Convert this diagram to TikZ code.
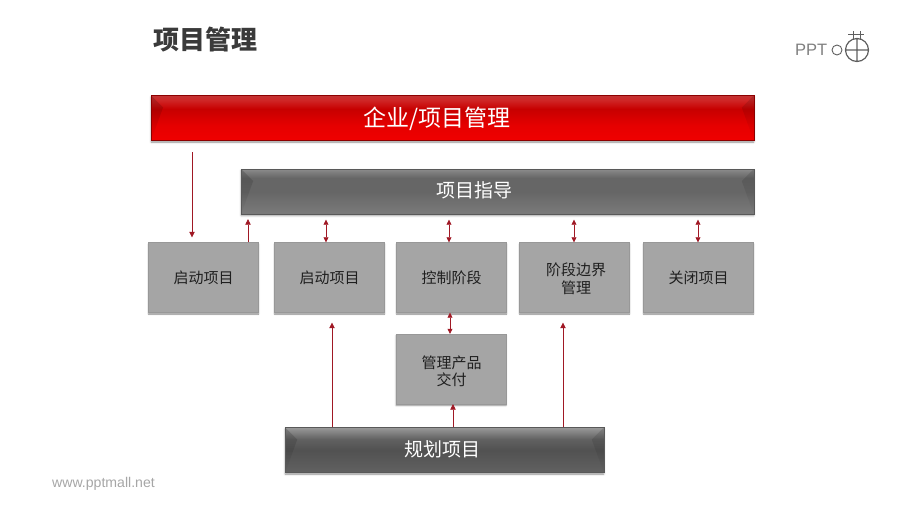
\documentclass[tikz,border=0pt]{standalone}
\usepackage{fontspec}
\usepackage{tikz}
\usetikzlibrary{arrows.meta, calc, fadings, shadows.blur}
\newfontfamily\cjk{Noto Sans CJK SC}
\setsansfont{Liberation Sans}
\definecolor{pmink}{HTML}{3A3A3A}
\definecolor{pmbox}{HTML}{A5A5A5}
\definecolor{pmedge}{HTML}{989898}
\definecolor{pmlink}{HTML}{A01824}
\definecolor{pmfoot}{HTML}{A6A6A6}
\definecolor{pmlogo}{HTML}{5F5F5F}
\pgfdeclareverticalshading{redbar}{100bp}{color(0bp)=(red!94!black); color(25bp)=(red!94!black);
  color(42bp)=(red!90!black); color(60bp)=(red!78!black); color(70bp)=(red!78!black!85!white); color(75bp)=(red!70!black!80!white); color(100bp)=(red!70!black!80!white)}
\pgfdeclareverticalshading{greybar}{100bp}{color(0bp)=(black!52); color(25bp)=(black!52);
  color(50bp)=(black!60); color(65bp)=(black!60); color(72bp)=(black!50); color(75bp)=(black!45); color(100bp)=(black!45)}
\pgfdeclareverticalshading{darkbar}{100bp}{color(0bp)=(black!62); color(25bp)=(black!62);
  color(50bp)=(black!68); color(62bp)=(black!62); color(72bp)=(black!45); color(75bp)=(black!40); color(100bp)=(black!40)}

\begin{document}
\begin{tikzpicture}[x=1pt, y=-1pt,
      blk/.style={draw=pmedge, line width=.4pt, fill=pmbox, text=black!88, align=center, inner sep=0pt,
                  minimum width=110pt, minimum height=70pt, font=\cjk\fontsize{15}{18}\selectfont,
                  blur shadow={shadow xshift=0pt, shadow yshift=-1.5pt, shadow blur radius=1.5pt, shadow opacity=45}},
      boxtext/.style={text=black!88, align=center, inner sep=0pt, font=\cjk\fontsize{15}{17.5}\selectfont},
      bar/.style={draw=black!65, line width=.4pt, inner sep=0pt, minimum height=45pt,
                  blur shadow={shadow xshift=0pt, shadow yshift=-1.5pt, shadow blur radius=2pt, shadow opacity=45},
                  path picture={
                    \fill[black, opacity=.18, path fading=south] (path picture bounding box.north west)
                      -- ++(12,12) -- (path picture bounding box.south west) -- cycle;
                    \fill[black, opacity=.14, path fading=south] (path picture bounding box.north east)
                      -- ++(-12,12) -- (path picture bounding box.south east) -- cycle;}},
      bartext/.style={text=white, inner sep=0pt, font=\cjk\fontsize{19}{24}\selectfont},
      link/.style={-{Triangle[length=5.5pt, width=5.5pt]}, pmlink, line width=.7pt},
      twin/.style={{Triangle[length=5pt, width=5pt]}-{Triangle[length=5pt, width=5pt]}, pmlink, line width=.7pt}]
  \useasboundingbox (0,0) rectangle (900,506);

  % title and footer
  \node[anchor=west, inner sep=0pt, text=pmink, font=\cjk\bfseries\fontsize{26}{30}\selectfont] (title) at (153,40) {项目管理};
  \node[anchor=west, inner sep=0pt, text=pmfoot, font=\sffamily\fontsize{14.1}{16}\selectfont] (foot) at (52,483.5) {www.pptmall.net};

  % logo
  \node[anchor=west, inner sep=0pt, text=pmlogo!80, font=\sffamily\fontsize{16.5}{18}\selectfont] (logotext) at (795,50) {PPT};
  \draw[pmlogo, line width=.9pt] (837,50) circle (5);
  \draw[pmlogo, line width=1.2pt] (857,50) circle (11.5) (845.5,50) -- (868.5,50) (857,38.5) -- (857,61.5);
  \draw[pmlogo, line width=.9pt] (848,34) -- (864,34) (853,31) -- (853,38.5) (860,31) -- (860,38.5);

  % bars
  \node[bar, draw=red!55!black, shading=redbar, minimum width=602.5pt] (company) at (452.5,118) {};
  \node[bar, shading=greybar, minimum width=512.5pt] (guide) at (497.5,191.5) {};
  \node[bar, shading=darkbar, minimum width=318.5pt] (plan) at (444.5,450) {};
  \node[bartext, font=\cjk\fontsize{23}{28}\selectfont] (companytext) at (437,119) {企业/项目管理};
  \node[bartext] (guidetext) at (474,190.5) {项目指导};
  \node[bartext] (plantext) at (442,449) {规划项目};

  % boxes
  \node[blk] (startA) at (203.5,277.5) {启动项目};
  \node[blk] (startB) at (329.5,277.5) {启动项目};
  \node[blk] (control) at (451.5,277.5) {控制阶段};
  \node[blk] (border) at (574.5,277.5) {};
  \node[boxtext] (bordertext) at (576,279) {阶段边界\\管理};
  \node[blk] (close) at (698.5,277.5) {关闭项目};
  \node[blk] (deliver) at (451,369) {};
  \node[boxtext] (delivertext) at (451.5,371.5) {管理产品\\交付};

  \coordinate (free) at (192,152);

  \draw[link, shorten >=5pt] (free) -- (free |- startA.north);
  \draw[link, shorten >=5pt] (startA.north -| 248,0) -- (guide.south -| 248,0);
  \foreach \x/\n in {326/startB, 449/control, 574/border, 698/close}
    \draw[twin, shorten >=5.5pt] (\n.north -| \x,0) -- (guide.south -| \x,0);
  \draw[twin] (deliver.north -| 450,0) -- (control.south -| 450,0);
  \draw[link, shorten >=10pt] (plan.north -| 332,0) -- (startB.south -| 332,0);
  \draw[link, shorten >=10pt] (plan.north -| 563,0) -- (border.south -| 563,0);
  \draw[link] (plan.north -| 453,0) -- (deliver.south -| 453,0);
\end{tikzpicture}
\end{document}
